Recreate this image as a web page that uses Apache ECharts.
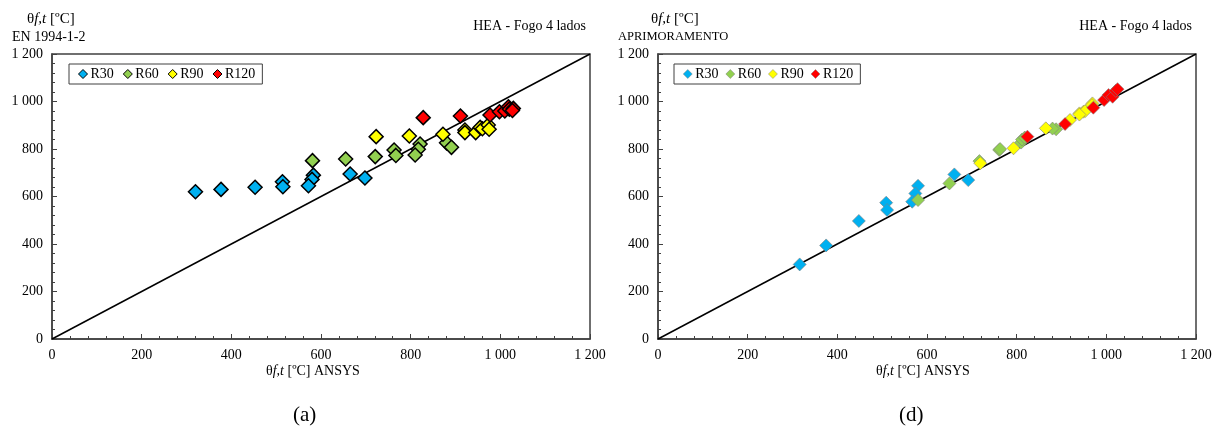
<!DOCTYPE html>
<html><head><meta charset="utf-8">
<script src="https://cdn.jsdelivr.net/npm/echarts@6/dist/echarts.min.js"></script>
<style>
html,body{margin:0;padding:0;background:#fff;}
#wrap{position:relative;width:1220px;height:432px;}
#a{position:absolute;left:0;top:0;width:610px;height:432px;}
#d{position:absolute;left:610px;top:0;width:610px;height:432px;}
</style></head>
<body><div id="wrap"><div id="a"></div><div id="d"></div></div>
<script>
// ---------- data ----------
const seriesNames = ['R30','R60','R90','R120'];
const seriesColors = ['#00B0F0','#92D050','#FFFF00','#FF0000'];
const axisTicks = [0,200,400,600,800,1000,1200];

// (a) EN 1994-1-2 vs ANSYS
const a_R30 = [[320,620],[377,630],[453,639],[514,662],[515,641],[583,690],[580,672],[572,645],[665,695],[698,678]];
const a_R60 = [[581,751],[655,758],[721,768],[763,796],[767,773],[821,821],[817,799],[810,775],[880,826],[891,807]];
const a_R90 = [[723,852],[797,855],[872,862],[921,880],[921,869],[945,869],[955,891],[960,885],[973,901],[975,883]];
const a_R120 = [[828,932],[911,939],[977,943],[998,957],[1010,960],[1018,978],[1020,968],[1029,971],[1027,962]];

// (d) APRIMORAMENTO vs ANSYS
const d_R30 = [[316,314],[375,394],[448,497],[509,574],[511,543],[580,645],[574,613],[567,578],[661,693],[692,669]];
const d_R60 = [[580,585],[650,655],[717,749],[761,796],[763,800],[810,827],[812,840],[818,848],[888,883],[880,886]];
const d_R90 = [[719,740],[793,803],[865,887],[919,922],[940,950],[949,957],[953,960],[969,992],[968,985],[940,945]];
const d_R120 = [[824,852],[908,905],[971,974],[995,1006],[1005,1027],[1014,1020],[1021,1045],[1025,1052]];

const diagonal = [[0,0],[1200,1200]];

const serif = 'Liberation Serif, Times New Roman, serif';

function fmt(v){ return v>=1000 ? (Math.floor(v/1000)+' '+String(v%1000).padStart(3,'0')) : String(v); }

function axisCommon(){
  return {
    min: axisTicks[0], max: axisTicks[axisTicks.length-1], interval: axisTicks[1]-axisTicks[0],
    axisLine:{show:true,onZero:false,lineStyle:{color:'#404040',width:1.5}},
    axisTick:{show:true,inside:true,length:5,lineStyle:{color:'#404040',width:1}},
    minorTick:{show:true,splitNumber:5,length:3,lineStyle:{color:'#404040',width:1}},
    splitLine:{show:false},
    axisLabel:{fontFamily:serif,fontSize:14,color:'#000',margin:9,formatter:fmt}
  };
}

function build(el, gridLeft, data, ylabel2, ylabel2Size, letter, bordered, legendLeft, legendGap, titleX, ylabelX){
  const chart = echarts.init(el, null, {renderer:'canvas'});
  const series = [{
    type:'line', data: diagonal, symbol:'none', silent:true,
    lineStyle:{color:'#000',width:1.5}, z:1
  }];
  data.forEach((d,i)=>{
    series.push({
      name: seriesNames[i], type:'scatter', data:d, symbol:'diamond',
      symbolSize: bordered ? 14 : 13,
      itemStyle:{color:seriesColors[i], borderColor: bordered ? '#000' : '#7f7f7f', borderWidth: bordered ? 1.5 : 0.6, opacity:1},
      z:2
    });
  });
  chart.setOption({
    animation:false,
    backgroundColor:'#fff',
    grid:{left:gridLeft, top:54, width:538, height:285, show:true, borderColor:'#404040', borderWidth:1.5, backgroundColor:'transparent'},
    xAxis:Object.assign(axisCommon(),{type:'value'}),
    yAxis:Object.assign(axisCommon(),{type:'value'}),
    legend:{
      left:legendLeft, top:64, orient:'horizontal',
      data: seriesNames.map((n,i)=>({name:n, icon:'diamond', itemStyle:{color:seriesColors[i], borderColor: bordered?'#000':'#7f7f7f', borderWidth: bordered?1:0.5}})),
      itemWidth:9, itemHeight:9, itemGap:legendGap,
      padding:[3,7,3,9],
      borderColor:'#404040', borderWidth:1,
      textStyle:{fontFamily:serif,fontSize:14,color:'#000',padding:[0,0,0,-2]}
    },
    graphic:[
      {type:'text', left:ylabelX, top:12, style:{
        text:'θ{i|f,t} [ºC]', font:'15px '+serif, fill:'#000',
        rich:{i:{fontStyle:'italic',fontFamily:serif,fontSize:15}}
      }},
      {type:'text', left: gridLeft-40, top:30, style:{text:ylabel2, font:ylabel2Size+'px '+serif, fill:'#000'}},
      {type:'text', right: 610-(gridLeft+538)+4, top:19, style:{text:'HEA - Fogo 4 lados', font:'14px '+serif, fill:'#000', textAlign:'right'}},
      {type:'text', left: titleX, top:364, style:{
        text:'θ{i|f,t} [ºC] ANSYS', font:'14px '+serif, fill:'#000',
        rich:{i:{fontStyle:'italic',fontFamily:serif,fontSize:14}}
      }},
      {type:'text', left: gridLeft+241, top:405, style:{text:letter, font:'21px '+serif, fill:'#000'}}
    ],
    series: series
  });
}

build(document.getElementById('a'), 52, [a_R30,a_R60,a_R90,a_R120], 'EN 1994-1-2', 14, '(a)', true, 69, 9, 266, 27);
build(document.getElementById('d'), 48, [d_R30,d_R60,d_R90,d_R120], 'APRIMORAMENTO', 12.5, '(d)', false, 64, 7, 266, 41);
</script></body></html>
